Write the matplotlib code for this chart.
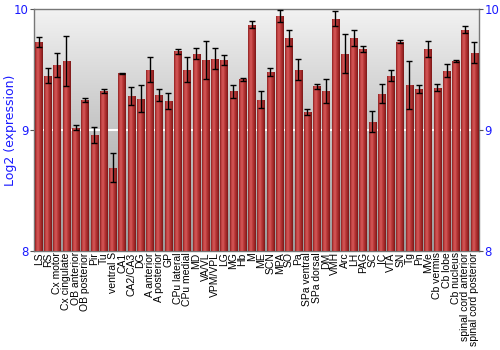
import numpy as np
import matplotlib
matplotlib.use("Agg")
import matplotlib.pyplot as plt
from matplotlib.colors import LinearSegmentedColormap

categories = ["LS", "RS", "Cx motor", "Cx cingulate", "OB anterior", "OB posterior", "Pir", "Tu",
              "ventral S", "CA1", "CA2/CA3", "DG", "A anterior", "A posterior", "GP", "CPu lateral",
              "CPu medial", "MD", "VA/VL", "VPM/VPL", "LG", "MG", "Hb", "M", "ME", "SCN", "MPA", "SO",
              "Pa", "SPa ventral", "SPa dorsal", "DM", "VMH", "Arc", "LH", "PAG", "SC", "IC", "VTA",
              "SN", "Tg", "Pn", "MVe", "Cb vermis", "Cb lobe", "Cb nucleus", "spinal cord anterior",
              "spinal cord posterior"]
values = [9.73, 9.45, 9.54, 9.57, 9.02, 9.25, 8.96, 9.32,
          8.69, 9.47, 9.28, 9.26, 9.50, 9.29, 9.24, 9.65,
          9.50, 9.63, 9.58, 9.59, 9.58, 9.32, 9.42, 9.87, 9.25, 9.48, 9.94, 9.76,
          9.50, 9.15, 9.36, 9.32, 9.92, 9.63, 9.76, 9.67, 9.07, 9.30, 9.45,
          9.73, 9.37, 9.34, 9.67, 9.35, 9.49, 9.57, 9.83, 9.64]
errors = [0.04, 0.06, 0.10, 0.21, 0.02, 0.015, 0.068, 0.017,
          0.12, 0.005, 0.073, 0.11, 0.10, 0.05, 0.07, 0.02,
          0.10, 0.045, 0.155, 0.085, 0.04, 0.054, 0.014, 0.03, 0.07, 0.036, 0.05, 0.066,
          0.084, 0.023, 0.017, 0.10, 0.063, 0.16, 0.067, 0.027, 0.09, 0.077, 0.044,
          0.014, 0.197, 0.033, 0.067, 0.03, 0.055, 0.008, 0.03, 0.087]
yticks = [8, 9, 10]

blue = "#1a1aff"
fig = plt.figure(figsize=(5, 3.5), dpi=100)
ax = fig.add_axes([0.068, 0.283, 0.89, 0.691])
ax.set_ylim(8, 10)
n = len(categories)
x = np.arange(n)
ax.set_xlim(-0.5, n - 0.5)

# background gradient
bg = LinearSegmentedColormap.from_list("bg", ["#9a9a9a", "#c4c4c4", "#f2f2f2"])
grad = np.linspace(0, 1, 256).reshape(-1, 1)
ax.imshow(grad, aspect="auto", cmap=bg, origin="lower",
          extent=[-0.5, n - 0.5, 8, 10], zorder=0)
ax.axhline(9, color="white", lw=1.5, zorder=1)

barcmap = LinearSegmentedColormap.from_list(
    "bar", ["#8a2020", "#c84848", "#d45858", "#b83838", "#a02828", "#7a1818"])
bars = ax.bar(x, values, width=0.8, color="#b03434", zorder=2, linewidth=0)
hgrad = np.linspace(0, 1, 64).reshape(1, -1)
for b in bars:
    im = ax.imshow(hgrad, aspect="auto", cmap=barcmap,
                   extent=[b.get_x(), b.get_x() + b.get_width(), 8, b.get_height()],
                   zorder=3)
    im.set_clip_path(b)
ax.errorbar(x, values, yerr=errors, fmt="none", ecolor="black", elinewidth=1,
            capsize=2, capthick=1, zorder=4)
ax.set_xlim(-0.5, n - 0.5)
ax.set_ylim(8, 10)

ax.set_xticks(x)
ax.set_xticklabels(categories, rotation=90, fontsize=7.5, family="Liberation Sans")
ax.tick_params(axis="x", length=0, pad=1)
ax.set_yticks(yticks)
ax.set_yticklabels([str(t) for t in yticks], color=blue, fontsize=8.5)
ax.tick_params(axis="y", length=3, color="#555555", pad=1)
ax.set_ylabel("Log2 (expression)", color=blue, fontsize=9)
ax.yaxis.set_label_coords(-0.038, 0.5)
for s in ax.spines.values():
    s.set_color("#777777")
    s.set_linewidth(1)

ax2 = ax.twinx()
ax2.set_ylim(8, 10)
ax2.set_yticks(yticks)
ax2.set_yticklabels([str(t) for t in yticks], color=blue, fontsize=8.5)
ax2.tick_params(axis="y", length=3, color="#555555", pad=1)
for s in ax2.spines.values():
    s.set_visible(False)

fig.savefig("out.png", dpi=100)
